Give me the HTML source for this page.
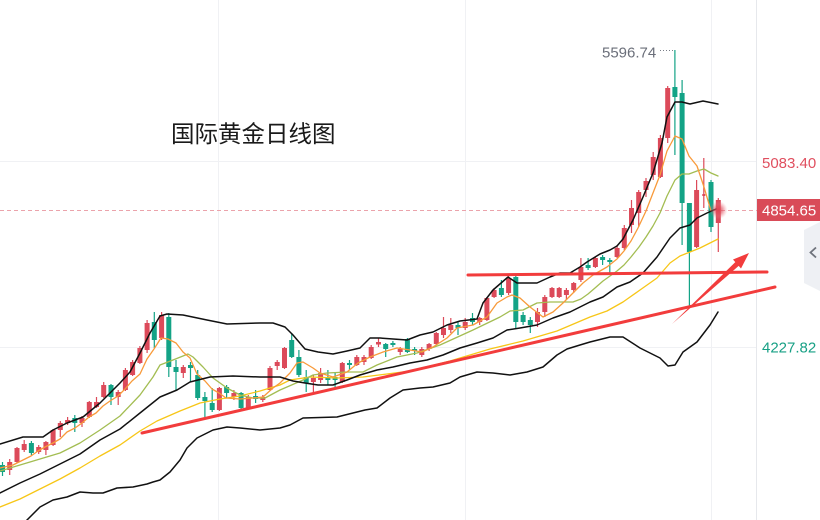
<!DOCTYPE html>
<html><head><meta charset="utf-8"><style>
html,body{margin:0;padding:0;background:#fff;}
svg{display:block;}
</style></head><body>
<svg width="820" height="520" viewBox="0 0 820 520" xmlns="http://www.w3.org/2000/svg">
<defs>
<radialGradient id="glow" cx="50%" cy="50%" r="50%">
<stop offset="0" stop-color="#e0404f" stop-opacity="0.95"/>
<stop offset="0.45" stop-color="#e25462" stop-opacity="0.6"/>
<stop offset="1" stop-color="#f08a95" stop-opacity="0"/>
</radialGradient>
</defs>
<rect width="820" height="520" fill="#fff"/>
<!-- grid -->
<g stroke="#f0f1f4" stroke-width="1">
<path d="M218.5 0V520M465.5 0V520M711.5 0V520"/>
<path d="M0 161.5H756M0 347.5H756"/>
</g>
<path d="M756.5 0V520" stroke="#e6e8ec" stroke-width="1"/>
<!-- price dashed line -->
<path d="M0 210.5H757" stroke="#eba3ab" stroke-width="1" stroke-dasharray="4 3"/>

<!-- title -->
<text x="171" y="142" font-family="'Liberation Sans','Noto Sans CJK SC',sans-serif" font-size="23.5" fill="#1a1a1a">国际黄金日线图</text>

<!-- candles: wicks -->
<path fill="none" stroke="#dc4a5a" stroke-width="1.2" d="M9.7 459V475M17 447V463M24.2 440V452M38.7 445V454M45.9 441V455M53.1 429V446M60.3 421V437M67.6 417V425M82 416V427M89.3 401V418M96.5 397V408M103.7 382V398M118.2 390V405M125.4 368V391M132.6 360V376M139.9 346V364M147.1 320V353M161.6 312V340M183.3 365V378M219.4 387V411M233.9 390V400M248.3 395V409M262.8 395V402M270 366V391M277.2 360V370M284.5 347V369M313.4 375V393M320.6 368V383M342.3 362V383M356.8 355V366M364 355V365M371.2 345V359M378.5 338V347M400.2 347V355M421.8 347V357M429.1 343V351M436.3 332V345M443.5 317V338M450.8 318V333M465.2 318V330M479.7 317V325M486.9 297V321M494.1 288V298M508.6 276V295M537.5 308V327M544.8 295V317M552 287V298M559.2 287V298M566.4 288V300M573.7 282V293M580.9 258V282M595.4 257V268M617.1 245V258M624.3 225V250M631.5 200V233M638.7 190V227M646 178V197M653.2 152V180M660.4 135V178M667.7 86V143M696.6 180V248M703.8 158V208M718.3 198V252"/>
<path fill="none" stroke="#13a386" stroke-width="1.2" d="M2.5 462V476M31.4 441V455M74.8 415V432M111 384V405M154.3 312V348M168.8 313V377M176 360V390M190.5 362V382M197.7 370V400M204.9 392V417M212.2 388V412M226.6 385V398M241.1 392V410M255.6 390V403M291.7 333V358M298.9 350V377M306.2 370V392M327.9 370V385M335.1 372V388M349.5 360V370M385.7 343V357M392.9 341V347M407.4 338V353M414.6 347V355M458 322V335M472.5 313V325M501.4 280V297M515.8 276V328M523.1 312V325M530.3 317V333M588.1 258V270M602.6 255V265M609.8 258V275M674.9 50V155M682.1 80V245M689.4 203V307M711 180V232"/>
<!-- candles: bodies -->
<path fill="#dc4a5a" d="M7.2 462h5V470h-5zM14.5 448h5V462h-5zM21.7 444h5V450h-5zM36.2 447h5V452h-5zM43.4 442h5V450h-5zM50.6 430h5V445h-5zM57.8 423h5V430h-5zM65.1 420h5V423h-5zM79.5 418h5V423h-5zM86.8 402h5V417h-5zM94 402h5V407h-5zM101.2 385h5V397h-5zM115.7 392h5V397h-5zM122.9 370h5V390h-5zM130.1 362h5V375h-5zM137.4 348h5V363h-5zM144.6 323h5V350h-5zM159.1 315h5V338h-5zM180.8 367h5V373h-5zM216.9 388h5V410h-5zM231.4 393h5V397h-5zM245.8 397h5V408h-5zM260.3 397h5V400h-5zM267.5 368h5V390h-5zM274.7 362h5V366h-5zM282 348h5V368h-5zM310.9 378h5V382h-5zM318.1 373h5V380h-5zM339.8 363h5V382h-5zM354.3 357h5V365h-5zM361.5 357h5V362h-5zM368.7 347h5V358h-5zM376 342h5V344.5h-5zM397.7 349h5V352h-5zM419.3 349h5V355h-5zM426.6 344h5V349h-5zM433.8 333h5V344h-5zM441 328h5V335h-5zM448.3 325h5V330h-5zM462.7 322h5V328h-5zM477.2 318h5V322h-5zM484.4 298h5V320h-5zM491.6 290h5V297h-5zM506.1 278h5V293h-5zM535 312h5V322h-5zM542.3 297h5V312h-5zM549.5 288h5V297h-5zM556.7 288h5V297h-5zM563.9 290h5V295h-5zM571.2 283h5V290h-5zM578.4 267h5V280h-5zM592.9 258h5V267h-5zM614.6 248h5V257h-5zM621.8 228h5V248h-5zM629 208h5V225h-5zM636.2 192h5V213h-5zM643.5 181h5V190h-5zM650.7 157h5V175h-5zM657.9 138h5V177h-5zM665.2 88h5V138h-5zM694.1 190h5V247h-5zM702.3 194h3V196h-3zM715.8 200h5V223h-5z"/>
<path fill="#13a386" d="M0 465h5V472h-5zM28.9 443h5V453h-5zM72.3 418h5V423h-5zM108.5 385h5V397h-5zM151.8 322h5V340h-5zM166.3 317h5V367h-5zM173.5 367h5V372h-5zM188 365h5V368h-5zM195.2 375h5V398h-5zM202.4 397h5V401h-5zM209.7 403h5V410h-5zM224.1 387h5V393h-5zM238.6 393h5V408h-5zM253.1 396h5V399h-5zM289.2 340h5V357h-5zM296.4 357h5V375h-5zM303.7 377h5V383h-5zM325.4 377h5V380h-5zM332.6 377h5V380h-5zM347 363h5V365h-5zM383.2 344h5V349h-5zM390.4 343h5V345h-5zM404.9 339h5V352h-5zM412.1 349h5V351h-5zM455.5 325h5V328h-5zM470 318h5V322h-5zM498.9 288h5V295h-5zM513.3 277h5V322h-5zM520.6 315h5V322h-5zM527.8 320h5V325h-5zM585.6 265h5V268h-5zM600.1 257h5V260h-5zM607.3 260h5V262h-5zM672.4 87h5V97h-5zM679.6 93h5V203h-5zM686.9 203h5V252h-5zM708.5 182h5V227h-5z"/>

<!-- indicator lines -->
<g fill="none" stroke-linejoin="round" stroke-linecap="round">
<!-- yellow MA -->
<polyline stroke="#f7c617" stroke-width="1.3" points="0,507 20,499 40,489 60,479 80,468 100,456 120,445 140,431 157,421 180,411 200,403 220,399 240,396 260,391 280,385 290,380 310,377 337,378 363,377 387,374 410,371 430,366 450,361 470,355 490,349 523,341 557,331 590,317 607,311 623,302 640,290 657,278 670,263 680,256 690,252 700,248 710,243 718,239"/>
<!-- olive MA -->
<polyline stroke="#a3bd52" stroke-width="1.3" points="0,471 20,465 40,459 60,453 80,443 100,430 120,416 140,395 153,377 160,365 173,360 188,354 193,357 203,367 213,378 227,388 240,395 253,398 265,398 280,390 287,387 303,380 313,375 327,373 347,372 363,372 377,365 397,357 417,353 440,345 473,330 500,317 510,311 523,310 537,303 550,302 573,302 581,299 588,294 595,288 603,281 610,276 617,271 624,265 631,257 639,247 646,237 653,226 660,213 667,196 675,180 682,174 689,174 697,171 704,169 711,173 718,176"/>
<!-- orange MA -->
<polyline stroke="#f89a3a" stroke-width="1.3" points="0,468 13,465 31,456 38,451 45,447 53,443 60,439 67,432 75,428 82,423 89,417 96,413 103,406 110,401 118,396 125,389 132,381 140,374 147,359 154,349 161,338 168,339 176,343 183,352 190,358 197,374 205,381 212,389 219,393 226,398 240,399 253,398 263,397 273,388 280,383 290,373 297,363 303,362 313,368 320,373 333,377 347,372 358,363 370,357 383,352 397,348 410,350 422,352 433,347 447,338 457,328 473,325 487,317 497,303 507,297 512,295 520,298 530,307 543,317 553,312 563,303 573,293 583,283 593,275 607,267 617,259 624,251 631,241 638,228 646,211 653,193 660,175 667,151 675,136 682,139 689,156 697,166 704,187 711,211"/>
<!-- bollinger upper -->
<polyline stroke="#111" stroke-width="1.5" points="0,444 23,437 43,437 53,430 67,423 83,417 100,403 113,390 120,383 130,372 140,353 150,333 160,316 167,314 183,315 207,320 227,324 260,323 273,323 285,327 293,335 305,349 318,352 333,354 347,351 360,348 370,338 380,338 393,339 407,340 420,335 433,332 447,325 460,321 477,319 483,303 493,290 508,277 517,283 537,283 550,277 560,273 570,273 580,267 587,262 600,254 610,250 617,246 623,239 633,220 643,197 653,173 662,143 667,117 675,102 682,102 690,104 703,101 718,104"/>
<!-- bollinger middle -->
<polyline stroke="#111" stroke-width="1.5" points="0,493 20,483 40,474 60,464 80,454 100,440 120,429 140,413 160,397 177,390 190,382 210,377 233,376 260,377 280,377 293,381 305,383 318,385 333,385 347,380 360,375 377,370 393,367 410,363 427,360 443,355 460,348 477,343 493,338 507,330 520,328 537,325 553,318 570,312 580,307 590,302 603,297 617,287 630,282 643,273 657,257 670,238 680,228 690,225 697,218 707,213 716,209"/>
<!-- bollinger lower -->
<polyline stroke="#111" stroke-width="1.5" points="20,527 27,520 40,507 53,500 67,497 80,492 93,493 103,493 117,488 133,487 147,484 153,482 160,480 170,472 180,460 187,448 197,438 213,430 227,427 240,428 260,430 280,428 290,425 303,418 337,417 353,413 365,410 377,408 390,398 403,390 420,388 433,387 450,383 460,377 477,372 493,373 510,375 527,372 543,367 557,355 567,349 580,345 590,342 610,337 623,337 640,348 660,358 668,366 675,365 683,352 697,342 710,325 718,312"/>
</g>

<!-- annotations -->
<g stroke="#f23c3c" stroke-linecap="round" fill="none">
<path d="M142 433L775 287" stroke-width="3"/>
<path d="M468 275L767 272" stroke-width="3"/>
</g>
<polygon fill="#f23c3c" points="672,324 738.7,265.9 741,268.5 749,253 733,259.5 735.3,262.1"/>

<!-- high label -->
<text x="602" y="57.5" font-family="'Liberation Sans',sans-serif" font-size="15" fill="#6b6f7a">5596.74</text>
<path d="M660 50.5H674" stroke="#7a7e88" stroke-width="1" stroke-dasharray="1 2"/>

<!-- glow dot -->
<circle cx="718.5" cy="210" r="9" fill="url(#glow)"/>

<!-- right axis labels -->
<text x="762" y="168" font-family="'Liberation Sans',sans-serif" font-size="15" fill="#e04f5f">5083.40</text>
<rect x="757" y="199" width="63" height="22" fill="#d94b58"/>
<text x="762" y="215.5" font-family="'Liberation Sans',sans-serif" font-size="15" fill="#ffffff">4854.65</text>
<text x="762" y="352.5" font-family="'Liberation Sans',sans-serif" font-size="15" fill="#17a085">4227.82</text>

<!-- side tab -->
<polygon fill="#eef0f4" points="820,222 804,230 804,283 820,291"/>
<polyline fill="none" stroke="#6f737c" stroke-width="1.8" points="816,247.5 810.5,252.5 816,257.5"/>
</svg>
</body></html>
